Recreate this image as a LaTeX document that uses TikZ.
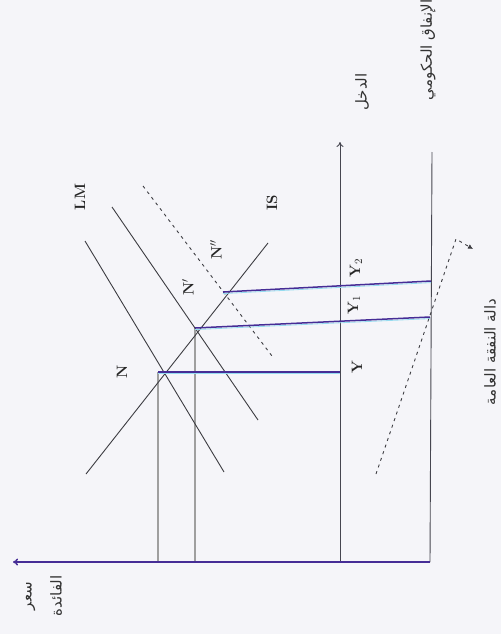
\documentclass[tikz,border=0pt]{standalone}
\usepackage{fontspec}
\newfontfamily\arabicfont[Script=Arabic]{DejaVu Sans}
\TeXXeTstate=1
\usetikzlibrary{arrows.meta}
\definecolor{bgc}{RGB}{245,245,249}
\definecolor{axisc}{RGB}{70,70,80}
\definecolor{colc}{RGB}{70,45,150}
\definecolor{glow}{RGB}{150,220,240}
\definecolor{curvec}{RGB}{60,60,65}
\begin{document}
\begin{tikzpicture}[x=1pt,y=-1pt,
  axisline/.style={draw=axisc,line width=0.9pt},
  colline/.style={draw=colc,line width=1.5pt},
  glowline/.style={draw=glow,line width=0.8pt},
  curve/.style={draw=curvec,line width=0.9pt},
  guide/.style={draw=gray!75,line width=1.1pt},
  dashcurve/.style={draw=curvec,line width=0.9pt,dash pattern=on 3pt off 4pt},
  lab/.style={font=\fontsize{15}{17}\selectfont\bfseries,text=black!85,rotate=90,inner sep=0pt},
  arlab/.style={font=\arabicfont\fontsize{15}{17}\selectfont,text=black!80,rotate=90,inner sep=0pt,align=center}]
\fill[bgc] (0,0) rectangle (501,634);
\useasboundingbox (0,0) rectangle (501,634);
% key points
\coordinate (O) at (430,562);
\coordinate (Rtip) at (13,562);
\coordinate (Ybase) at (340,562);
\coordinate (Ytip) at (340,142);
\coordinate (Gtop) at (432,152);
\coordinate (N) at (158,372);
\coordinate (N1) at (195,328);
\coordinate (N2) at (223,292);
\coordinate (Yc) at (340,372);
\coordinate (Y1c) at (430,317);
\coordinate (Y2c) at (431,281);
\coordinate (Nb) at (158,562);
\coordinate (N1b) at (195,562);
\coordinate (LMa) at (85,241);
\coordinate (LMb) at (224,472);
\coordinate (LMc) at (112,207);
\coordinate (LMd) at (258,420);
\coordinate (LMe) at (143,186);
\coordinate (LMf) at (272,356);
\coordinate (ISa) at (86,474);
\coordinate (ISb) at (268,243);
\coordinate (E0) at (376,474);
\coordinate (E1) at (456,239);
\coordinate (E2) at (473,249);
% guides
\draw[guide] (N) -- (Nb);
\draw[guide] (N1) -- (N1b);
% curves
\draw[curve] (LMa) -- (LMb);
\draw[curve] (LMc) -- (LMd);
\draw[dashcurve] (LMe) -- (LMf);
\draw[curve] (ISa) -- (ISb);
% axes
\draw[axisline,-{To[length=5pt,width=7pt]}] (Ybase) -- (Ytip);
\draw[axisline] (Gtop) -- (O);
% coloured projection lines
\draw[glowline] ([yshift=-1.6pt]N) -- ([yshift=-1.6pt]Yc);
\draw[colline] (N) -- (Yc);
\draw[glowline] ([yshift=-1.6pt]N1) -- ([yshift=-1.6pt]Y1c);
\draw[colline] (N1) -- (Y1c);
\draw[glowline] ([yshift=-1.6pt]N2) -- ([yshift=-1.6pt]Y2c);
\draw[colline] (N2) -- (Y2c);
\draw[colline,-{To[length=5pt,width=7pt]}] (O) -- (Rtip);
% expenditure function
\draw[dashcurve,-{Latex[length=5pt,width=5pt]}] (E0) -- (E1) -- (E2);
% labels
\node[lab] (lLM) at (80,197) {LM};
\node[lab] (lIS) at (272,203) {IS};
\node[lab] (lN) at (122,372) {N};
\node[lab] (lN1) at (188,287) {N$'$};
\node[lab] (lN2) at (216,250) {N$''$};
\node[lab] (lY) at (357,367) {Y};
\node[lab] (lY1) at (354,305) {Y$_1$};
\node[lab] (lY2) at (356,268) {Y$_2$};
\node[arlab,font=\arabicfont\fontsize{15}{30}\selectfont] (lrate) at (44,596) {\beginR سعر\endR\\\beginR الفائدة\endR};
\node[arlab] (linc) at (362,92) {\beginR الدخل\endR};
\node[arlab] (lgov) at (428,50) {\beginR الإنفاق الحكومي\endR};
\node[arlab] (lfun) at (490,352) {\beginR دالة النفقة العامة\endR};
\end{tikzpicture}
\end{document}
